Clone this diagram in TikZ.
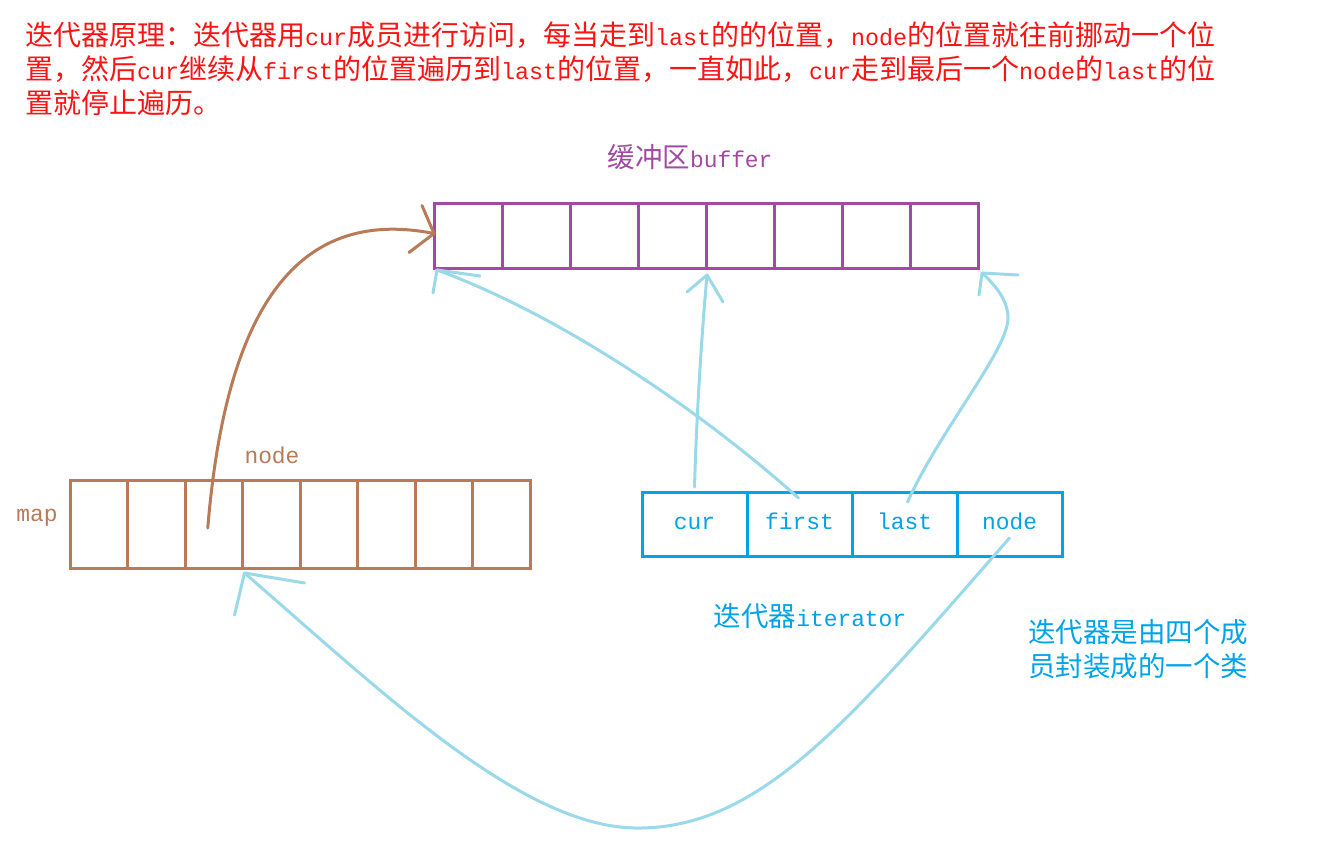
\documentclass[tikz,border=0pt]{standalone}
\usepackage{fontspec}
\setmainfont{Noto Sans CJK SC}
\newfontfamily\latfont[Scale=0.833]{Liberation Mono}
\newcommand\lt[1]{{\latfont #1}}
\definecolor{tred}{RGB}{250,20,20}
\definecolor{pur}{RGB}{163,73,164}
\definecolor{brn}{RGB}{185,122,87}
\definecolor{blu}{RGB}{0,162,232}
\definecolor{lblu}{RGB}{153,217,234}
\tikzset{
  bufcell/.style={draw=pur, line width=3pt, minimum width=68pt, minimum height=65pt, inner sep=0pt, outer sep=0pt},
  mapcell/.style={draw=brn, line width=3pt, minimum width=57.5pt, minimum height=88pt, inner sep=0pt, outer sep=0pt},
  itcell/.style={draw=blu, line width=3pt, minimum width=105pt, minimum height=64pt, inner sep=0pt, outer sep=0pt, text=blu, text height=14pt, text depth=3pt, font=\fontsize{27.5}{33}\selectfont},
  lbl/.style={inner sep=0pt, font=\fontsize{27.5}{33}\selectfont},
  conn/.style={draw=lblu, line width=3pt, line cap=round, line join=round},
  bconn/.style={draw=brn, line width=3pt, line cap=round, line join=round}
}
\begin{document}
\begin{tikzpicture}[x=1pt,y=-1pt]
\path[use as bounding box] (0,0) rectangle (1319,841);
% title
\node[lbl, text=tred, anchor=north west, align=left, font=\fontsize{28}{34}\selectfont] (title) at (25,22)
{迭代器原理：迭代器用\lt{cur}成员进行访问，每当走到\lt{last}的的位置，\lt{node}的位置就往前挪动一个位\\置，然后\lt{cur}继续从\lt{first}的位置遍历到\lt{last}的位置，一直如此，\lt{cur}走到最后一个\lt{node}的\lt{last}的位\\置就停止遍历。};
% buffer
\node[lbl, text=pur] (buflabel) at (690,157) {缓冲区\lt{buffer}};
\foreach \i in {1,...,8} {
  \node[bufcell] (buf\i) at ({434+34+68*(\i-1)},235.5) {};
}
% map
\node[lbl, text=brn] (maplabel) at (37,518) {\lt{map}};
\node[lbl, text=brn] (nodelabel) at (272,455) {\lt{node}};
\foreach \i in {1,...,8} {
  \node[mapcell] (map\i) at ({70+28.75+57.5*(\i-1)},524) {};
}
% iterator
\node[itcell] (it1) at (694.5,524) {\lt{cur}};
\node[itcell] (it2) at (799.5,524) {\lt{first}};
\node[itcell] (it3) at (904.5,524) {\lt{last}};
\node[itcell] (it4) at (1009.5,524) {\lt{node}};
\node[lbl, text=blu] (itlabel) at (810,616) {迭代器\lt{iterator}};
\node[lbl, text=blu, anchor=north west, align=left, font=\fontsize{27.5}{34}\selectfont] (note) at (1028,619) {迭代器是由四个成\\员封装成的一个类};
% brown arrow map -> buffer
\coordinate (btip) at ([yshift=2pt]buf1.west);
\draw[bconn] ([xshift=-6pt,yshift=-4pt]map3.center) .. controls (225,320) and (290,205) .. (btip);
\draw[bconn] (btip) -- ++(-12,-28);
\draw[bconn] (btip) -- ++(-25,19);
% cur arrow
\coordinate (ctip) at ([xshift=1pt,yshift=-7pt]buf5.south west);
\draw[conn] ([xshift=0pt,yshift=5pt]it1.north) .. controls (697,400) and (703,320) .. (ctip);
\draw[conn] (ctip) -- ++(-20,17);
\draw[conn] (ctip) -- ++(16,27);
% first arrow
\coordinate (ftip) at ([xshift=3pt,yshift=-2pt]buf1.south west);
\draw[conn] ([xshift=-1pt,yshift=-6pt]it2.north) .. controls (700,410) and (560,315) .. (ftip);
\draw[conn] (ftip) -- ++(43,6);
\draw[conn] (ftip) -- ++(-4,23);
% last arrow
\coordinate (ltip) at ([xshift=4pt,yshift=-5pt]buf8.south east);
\draw[conn] ([xshift=3pt,yshift=-10pt]it3.north) .. controls (940,430) and (1008,350) .. (1008,318) .. controls (1008,300) and (995,285) .. (ltip);
\draw[conn] (ltip) -- ++(36,2);
\draw[conn] (ltip) -- ++(-3,22);
% node arrow
\coordinate (ntip) at ([xshift=2pt,yshift=-5pt]map4.south west);
\draw[conn] ([yshift=-14pt]it4.center) .. controls (850,720) and (760,830) .. (635,828) .. controls (520,826) and (380,690) .. (ntip);
\draw[conn] (ntip) -- ++(60,10);
\draw[conn] (ntip) -- ++(-10,42);
\end{tikzpicture}
\end{document}
